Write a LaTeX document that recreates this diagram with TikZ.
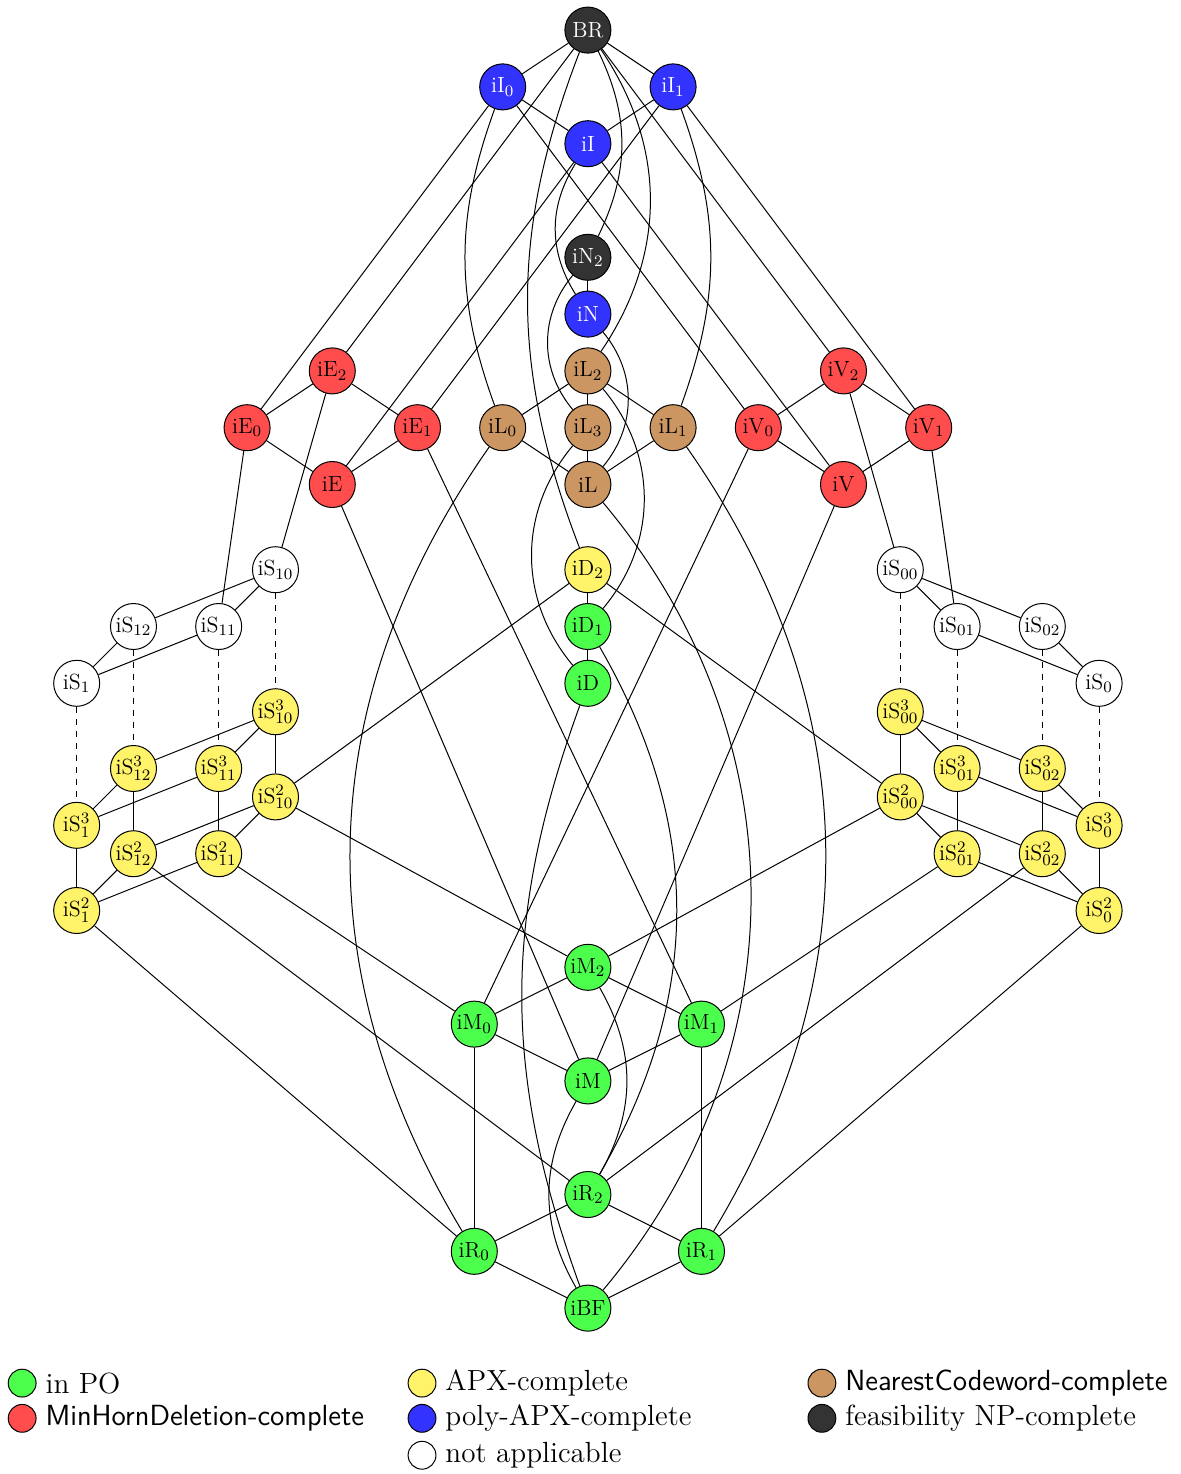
\documentclass[tikz,border=0pt]{standalone}
\usetikzlibrary{positioning}

\definecolor{colPO}{RGB}{77,255,77}
\definecolor{colAPX}{RGB}{255,243,105}
\definecolor{colNC}{RGB}{204,150,98}
\definecolor{colMHD}{RGB}{255,77,77}
\definecolor{colPAPX}{RGB}{51,51,255}
\definecolor{colNP}{RGB}{51,51,51}

\begin{document}
\begin{tikzpicture}[node distance=1cm, line width=0.5pt,
                    main node/.style={circle,draw,minimum size=0.81cm,inner sep=0pt,font=\fontsize{11}{13}\selectfont},
                    po node/.style={main node,fill=colPO},
                    apx node/.style={main node,fill=colAPX},
                    nc node/.style={main node,fill=colNC},
                    mhd node/.style={main node,fill=colMHD},
                    papx node/.style={main node,fill=colPAPX,text=white},
                    np node/.style={main node,fill=colNP,text=white},
                    na node/.style={main node,fill=white},
                    key node/.style={circle,draw,minimum size=0.49cm,inner sep=0pt},
                    key text/.style={font=\fontsize{14.6}{17}\selectfont,inner sep=0pt,anchor=west}]

  \useasboundingbox (-10.35,-2.92) rectangle (10.44,23.03);

  % top part
  \node[np node] (BR) at (0,22.5) {BR};
  \node[papx node] (iI0) at (-1.5,21.5) {iI$_0$};
  \node[papx node] (iI1) at (1.5,21.5) {iI$_1$};
  \node[papx node] (iI) at (0,20.5) {iI};
  \node[np node] (iN2) at (0,18.5) {iN$_2$};
  \node[papx node] (iN) [below of=iN2] {iN};
  \node[nc node] (iL2) [below of=iN] {iL$_2$};
  \node[nc node] (iL3) [below of=iL2] {iL$_3$};
  \node[nc node] (iL) [below of=iL3] {iL};
  \node[nc node] (iL0) at (-1.5,15.5) {iL$_0$};
  \node[nc node] (iL1) at (1.5,15.5) {iL$_1$};
  \node[mhd node] (iE2) at (-4.5,16.5) {iE$_2$};
  \node[mhd node] (iE0) at (-6,15.5) {iE$_0$};
  \node[mhd node] (iE1) at (-3,15.5) {iE$_1$};
  \node[mhd node] (iE) at (-4.5,14.5) {iE};
  \node[mhd node] (iV2) at (4.5,16.5) {iV$_2$};
  \node[mhd node] (iV0) at (3,15.5) {iV$_0$};
  \node[mhd node] (iV1) at (6,15.5) {iV$_1$};
  \node[mhd node] (iV) at (4.5,14.5) {iV};

  % middle
  \node[apx node] (iD2) at (0,13) {iD$_2$};
  \node[po node] (iD1) [below of=iD2] {iD$_1$};
  \node[po node] (iD) [below of=iD1] {iD};

  % left S block
  \node[na node] (iS10) at (-5.5,13) {iS$_{10}$};
  \node[na node] (iS12) at (-8,12) {iS$_{12}$};
  \node[na node] (iS11) at (-6.5,12) {iS$_{11}$};
  \node[na node] (iS1) at (-9,11) {iS$_1$};
  \node[apx node] (iS10c) at (-5.5,10.5) {iS$^3_{10}$};
  \node[apx node] (iS12c) at (-8,9.5) {iS$^3_{12}$};
  \node[apx node] (iS11c) at (-6.5,9.5) {iS$^3_{11}$};
  \node[apx node] (iS1c) at (-9,8.5) {iS$^3_1$};
  \node[apx node] (iS10b) at (-5.5,9) {iS$^2_{10}$};
  \node[apx node] (iS12b) at (-8,8) {iS$^2_{12}$};
  \node[apx node] (iS11b) at (-6.5,8) {iS$^2_{11}$};
  \node[apx node] (iS1b) at (-9,7) {iS$^2_1$};

  % right S block
  \node[na node] (iS00) at (5.5,13) {iS$_{00}$};
  \node[na node] (iS01) at (6.5,12) {iS$_{01}$};
  \node[na node] (iS02) at (8,12) {iS$_{02}$};
  \node[na node] (iS0) at (9,11) {iS$_0$};
  \node[apx node] (iS00c) at (5.5,10.5) {iS$^3_{00}$};
  \node[apx node] (iS01c) at (6.5,9.5) {iS$^3_{01}$};
  \node[apx node] (iS02c) at (8,9.5) {iS$^3_{02}$};
  \node[apx node] (iS0c) at (9,8.5) {iS$^3_0$};
  \node[apx node] (iS00b) at (5.5,9) {iS$^2_{00}$};
  \node[apx node] (iS01b) at (6.5,8) {iS$^2_{01}$};
  \node[apx node] (iS02b) at (8,8) {iS$^2_{02}$};
  \node[apx node] (iS0b) at (9,7) {iS$^2_0$};

  % bottom part
  \node[po node] (iM2) at (0,6) {iM$_2$};
  \node[po node] (iM0) at (-2,5) {iM$_0$};
  \node[po node] (iM1) at (2,5) {iM$_1$};
  \node[po node] (iM) at (0,4) {iM};
  \node[po node] (iR2) at (0,2) {iR$_2$};
  \node[po node] (iR0) at (-2,1) {iR$_0$};
  \node[po node] (iR1) at (2,1) {iR$_1$};
  \node[po node] (iBF) at (0,0) {iBF};

  % straight edges
  \foreach \a/\b in {BR/iI0,BR/iI1,BR/iE2,BR/iV2,iI0/iI,iI1/iI,iI0/iE0,iI0/iV0,iI1/iE1,iI1/iV1,
                     iI/iE,iI/iV,iN2/iN,iL2/iL0,iL2/iL3,iL2/iL1,iL0/iL,iL3/iL,iL1/iL,
                     iE2/iE0,iE2/iE1,iE0/iE,iE1/iE,iE2/iS10,iE0/iS11,iE1/iM1,iE/iM,
                     iV2/iV0,iV2/iV1,iV0/iV,iV1/iV,iV2/iS00,iV1/iS01,iV0/iM0,iV/iM,
                     iD2/iD1,iD1/iD,iD2/iS10b,iD2/iS00b,
                     iS10/iS12,iS10/iS11,iS12/iS1,iS11/iS1,
                     iS10c/iS12c,iS10c/iS11c,iS12c/iS1c,iS11c/iS1c,
                     iS10c/iS10b,iS12c/iS12b,iS11c/iS11b,iS1c/iS1b,
                     iS10b/iS12b,iS10b/iS11b,iS12b/iS1b,iS11b/iS1b,
                     iS10b/iM2,iS11b/iM0,iS12b/iR2,iS1b/iR0,
                     iS00/iS01,iS00/iS02,iS01/iS0,iS02/iS0,
                     iS00c/iS01c,iS00c/iS02c,iS01c/iS0c,iS02c/iS0c,
                     iS00c/iS00b,iS01c/iS01b,iS02c/iS02b,iS0c/iS0b,
                     iS00b/iS01b,iS00b/iS02b,iS01b/iS0b,iS02b/iS0b,
                     iS00b/iM2,iS01b/iM1,iS02b/iR2,iS0b/iR1,
                     iM2/iM0,iM2/iM1,iM0/iM,iM1/iM,iM0/iR0,iM1/iR1,
                     iR2/iR0,iR2/iR1,iR0/iBF,iR1/iBF}
    \draw (\a) -- (\b);

  % dashed edges (infinite chains)
  \foreach \a/\b in {iS10/iS10c,iS12/iS12c,iS11/iS11c,iS1/iS1c,
                     iS00/iS00c,iS01/iS01c,iS02/iS02c,iS0/iS0c}
    \draw[dashed] (\a) -- (\b);

  % curved edges
  \draw (BR) to[bend right=21] (iD2);
  \draw (BR) to[bend left=26] (iN2);
  \draw (BR) to[bend left=34] (iL2);
  \draw (iI0) to[bend right=20] (iL0);
  \draw (iI1) to[bend left=20] (iL1);
  \draw (iI) to[bend right=32] (iN);
  \draw (iN2) to[bend right=40] (iL3);
  \draw (iN) to[bend left=40] (iL);
  \draw (iL2) to[bend left=40] (iD1);
  \draw (iL3) to[bend right=40] (iD);
  \draw (iL0) to[bend right=33] (iR0);
  \draw (iL1) to[bend left=33] (iR1);
  \draw (iL) to[bend left=40] (iBF);
  \draw (iD1) to[bend left=30] (iR2);
  \draw (iD) to[bend right=20] (iBF);
  \draw (iM2) to[bend left=30] (iR2);
  \draw (iM) to[bend right=30] (iBF);

  % legend
  \node[key node,fill=colPO] (kPO) at (-9.96,-1.32) {};
  \node[key node,fill=colMHD] (kMHD) at (-9.96,-1.94) {};
  \node[key node,fill=colAPX] (kAPX) at (-2.92,-1.32) {};
  \node[key node,fill=colPAPX] (kPAPX) at (-2.92,-1.94) {};
  \node[key node,fill=white] (kNA) at (-2.92,-2.59) {};
  \node[key node,fill=colNC] (kNC) at (4.12,-1.32) {};
  \node[key node,fill=colNP] (kNP) at (4.12,-1.94) {};
  \node[key text,right=0.15cm of kPO] (tPO) {in PO};
  \node[key text,right=0.15cm of kMHD] (tMHD) {\textsf{MinHornDeletion-complete}};
  \node[key text,right=0.15cm of kAPX] (tAPX) {APX-complete};
  \node[key text,right=0.15cm of kPAPX] (tPAPX) {poly-APX-complete};
  \node[key text,right=0.15cm of kNA] (tNA) {not applicable};
  \node[key text,right=0.15cm of kNC] (tNC) {\textsf{NearestCodeword-complete}};
  \node[key text,right=0.15cm of kNP] (tNP) {feasibility NP-complete};

\end{tikzpicture}
\end{document}
